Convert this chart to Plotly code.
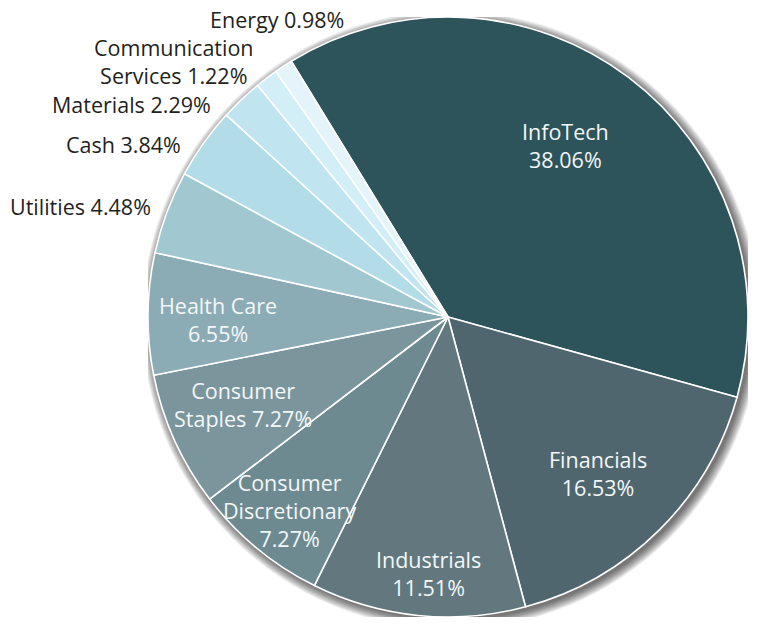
import math
import plotly.graph_objects as go

# Sector weights (%)
sectors = ["InfoTech", "Financials", "Industrials", "Consumer Discretionary",
           "Consumer Staples", "Health Care", "Utilities", "Cash",
           "Materials", "Communication Services", "Energy"]
weights = [38.06, 16.53, 11.51, 7.27, 7.27, 6.55, 4.48, 3.84, 2.29, 1.22, 0.98]

# Label text, one list of lines per sector
label_lines = [
    ["InfoTech", "38.06%"],
    ["Financials", "16.53%"],
    ["Industrials", "11.51%"],
    ["Consumer", "Discretionary", "7.27%"],
    ["Consumer", "Staples 7.27%"],
    ["Health Care", "6.55%"],
    ["Utilities 4.48%"],
    ["Cash 3.84%"],
    ["Materials 2.29%"],
    ["Communication", "Services 1.22%"],
    ["Energy 0.98%"],
]

colors = ["#2d535b", "#50666e", "#62787e", "#6e8a91", "#7a959c", "#8babb5",
          "#a1c7d1", "#b1dce8", "#c0e5f1", "#d2eef7", "#e4f4fa"]

# Label placement: radius fraction, angular nudge (deg), anchor, inside?
label_radius = [0.692, 0.723, 0.858, 0.832, 0.744, 0.767, 1.050, 1.055, 1.056, 1.247, 1.144]
label_nudge = [-2.7, 0.9, -1.5, -0.2, 1.2, -1.2, 0.1, -2.3, -4.3, -9.8, 3.3]
label_anchor = ["center"] * 6 + ["right", "right", "right", "center", "center"]
label_inside = [True] * 6 + [False] * 5

ROTATION = -31.5
FONT = "Open Sans"
FONT_SIZE = 21.5
PX = 1 / 300.0  # one pixel in axis units (radius = 300 px)

fig = go.Figure()
fig.add_trace(go.Scatter(x=[], y=[], showlegend=False, hoverinfo="skip"))
fig.add_trace(go.Pie(
    labels=sectors, values=weights, sort=False, direction="clockwise",
    rotation=ROTATION, textinfo="none", hole=0,
    marker=dict(colors=colors, line=dict(color="white", width=1.6)),
    domain=dict(x=[0, 1], y=[0, 1]), showlegend=False,
))

# soft drop shadow toward the lower right
shapes = []
for k in range(10):
    r = 1.0 + k * 1.0 * PX
    ox, oy = 3 * PX, -3 * PX
    shapes.append(dict(type="circle", xref="x", yref="y", layer="below",
                       x0=-r + ox, x1=r + ox, y0=-r + oy, y1=r + oy,
                       fillcolor="rgba(0,0,0,0.07)", line=dict(width=0)))

annotations = []
total = sum(weights)
cum = 0.0
for i, v in enumerate(weights):
    mid = ROTATION + 360.0 * (cum + v / 2) / total
    cum += v
    ang = math.radians(mid + label_nudge[i])
    annotations.append(dict(
        x=label_radius[i] * math.sin(ang), y=label_radius[i] * math.cos(ang),
        xref="x", yref="y", text="<br>".join(label_lines[i]), showarrow=False,
        xanchor=label_anchor[i], yanchor="middle", align="center",
        font=dict(family=FONT, size=FONT_SIZE,
                  color="#f4f7f8" if label_inside[i] else "#231f20"),
    ))

fig.update_layout(
    width=765, height=625,
    margin=dict(l=148, r=17, t=17, b=8),
    paper_bgcolor="white", plot_bgcolor="white",
    xaxis=dict(visible=False, range=[-1, 1], fixedrange=True),
    yaxis=dict(visible=False, range=[-1, 1], fixedrange=True),
    shapes=shapes, annotations=annotations,
)

fig.write_html("out.html")
